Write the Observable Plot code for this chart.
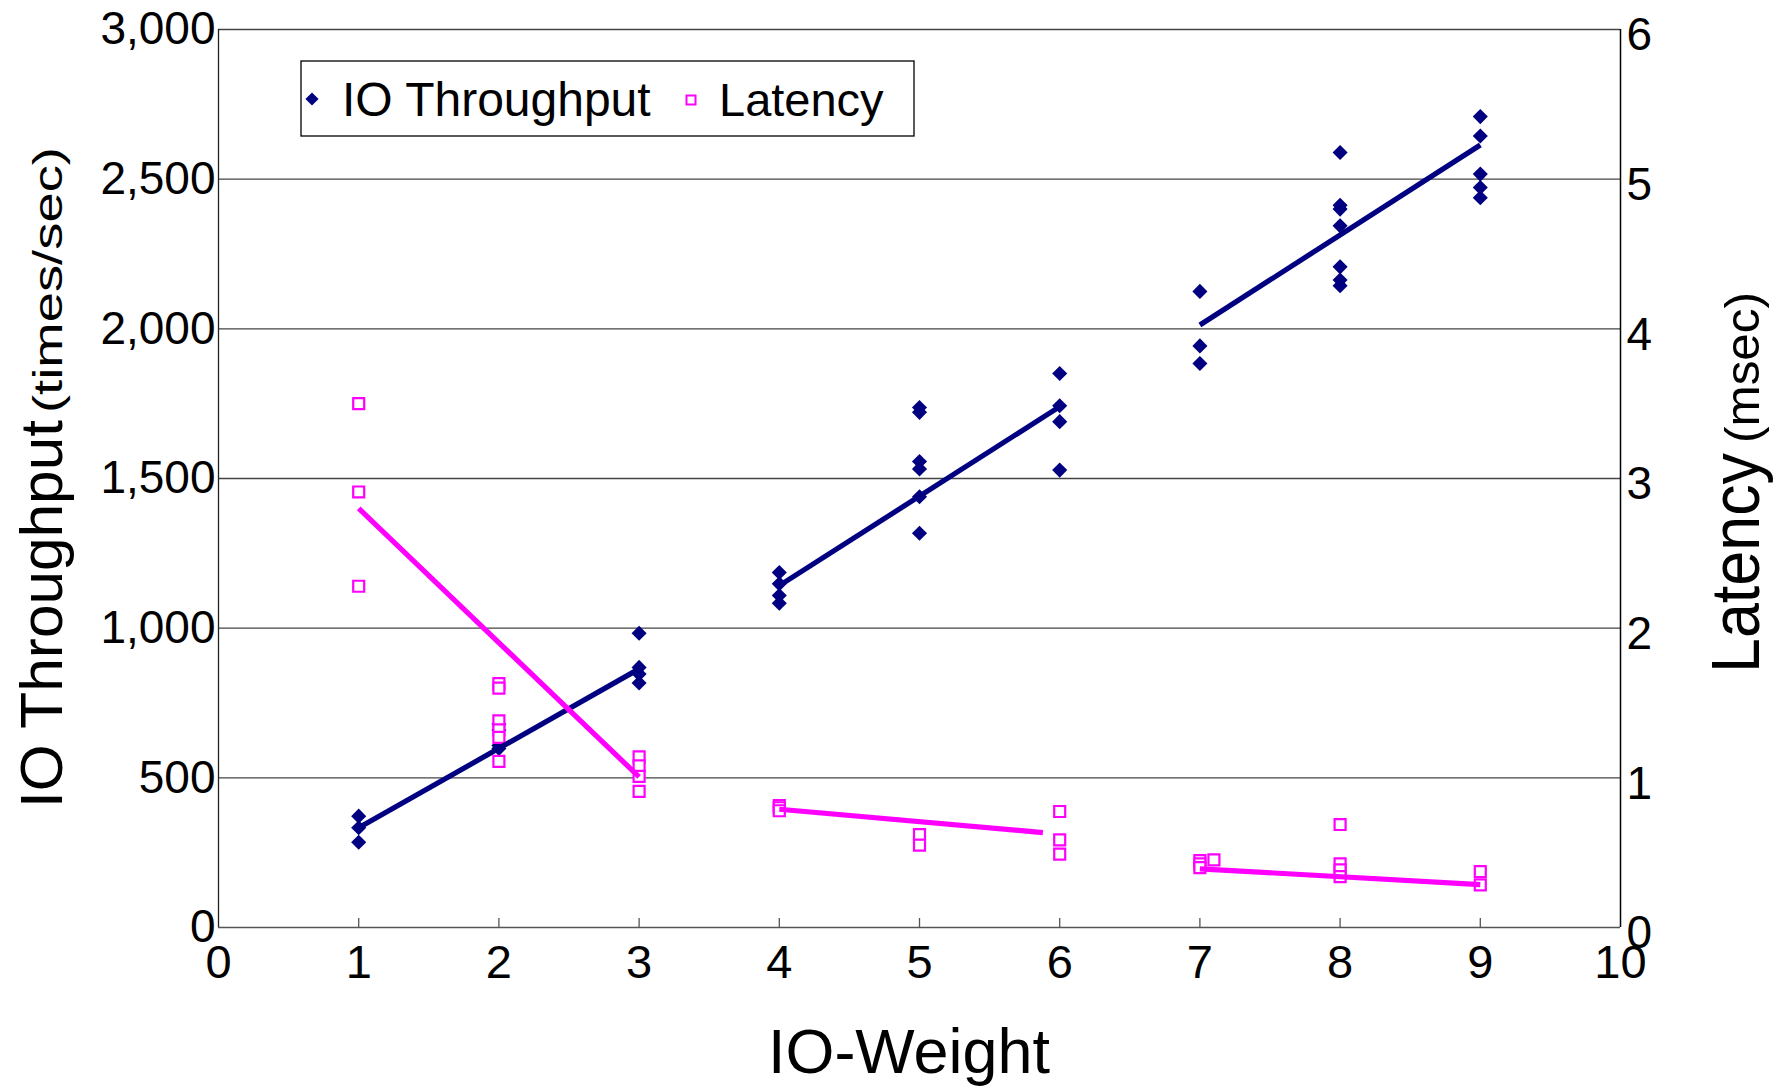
<!DOCTYPE html>
<html><head><meta charset="utf-8">
<script src="https://cdn.jsdelivr.net/npm/d3@7"></script>
<script src="https://cdn.jsdelivr.net/npm/@observablehq/plot@0.6"></script>
<style>html,body{margin:0;padding:0;background:#fff;} svg{display:block}</style>
</head><body><div id="chart"></div>
<script>
// ---- data ----
const tpWeight = [1,1,1, 2,2,2,2, 3,3,3,3, 4,4,4,4, 5,5,5,5,5,5, 6,6,6,6, 7,7,7, 8,8,8,8,8,8,8, 9,9,9,9,9];
const tpValue  = [372,333,285, 598,608,660,680, 983,869,847,817, 1186,1148,1109,1083, 1737,1721,1557,1532,1439,1317, 1851,1743,1690,1528, 2125,1943,1884, 2589,2413,2400,2344,2207,2163,2144, 2709,2644,2517,2472,2438];
const latWeight = [1,1,1, 2,2,2,2,2,2, 3,3,3,3, 4,4,4, 5,5, 6,6,6, 7,7,7,7.1, 8,8,8,8, 9,9];
const latValue  = [3.50,2.91,2.28, 1.63,1.60,1.38,1.32,1.27,1.11, 1.14,1.08,1.01,0.91, 0.815,0.80,0.78, 0.62,0.55, 0.775,0.586,0.49, 0.447,0.425,0.40,0.452, 0.688,0.425,0.385,0.34, 0.374,0.285];
const tpTrendGroup  = ["a","a","b","b","c","c"];
const tpTrendWeight = [1,3,4,6,7,9];
const tpTrendValue  = [333,864,1142,1740,2013,2614];
const latTrendGroup  = ["a","a","b","b","c","c"];
const latTrendWeight = [1,3,4,5.88,7,9];
const latTrendValue  = [2.80,1.006,0.79,0.634,0.392,0.287];
const xTicks = [0,1,2,3,4,5,6,7,8,9,10];
const leftTicks = [0,500,1000,1500,2000,2500,3000];
const rightTicks = [0,1,2,3,4,5,6];
const gridValues = [500,1000,1500,2000,2500,3000];
const seriesNames = ["IO Throughput","Latency"];
const xTitle = "IO-Weight";
const yLeftTitle = ["IO Throughput","(times/sec)"];
const yRightTitle = ["Latency","(msec)"];

const latToTp = 3000 / 6; // right axis (0-6) mapped onto left axis (0-3000)

const tp = tpWeight.map((w,i) => ({w, v: tpValue[i]}));
const lat = latWeight.map((w,i) => ({w, v: latValue[i] * latToTp}));
const tpTrend = tpTrendWeight.map((w,i) => ({g: tpTrendGroup[i], w, v: tpTrendValue[i]}));
const latTrend = latTrendWeight.map((w,i) => ({g: latTrendGroup[i], w, v: latTrendValue[i] * latToTp}));

const NAVY = "#000080", MAGENTA = "#FF00FF";
const FONT = "'Liberation Sans', Arial, sans-serif";

const W = 1773, H = 1086, mL = 218, mR = 153, mT = 29, mB = 159;

const chart = Plot.plot({
  width: W, height: H,
  marginLeft: mL, marginRight: mR, marginTop: mT, marginBottom: mB,
  style: {fontFamily: FONT, background: "white", color: "black", overflow: "visible"},
  x: {domain: [0, 10]},
  y: {domain: [0, 3000]},
  marks: [
    Plot.ruleY(gridValues, {stroke: "#444", strokeWidth: 1.3}),
    Plot.ruleY([0], {stroke: "#555", strokeWidth: 1.5}),
    Plot.tickX(xTicks.slice(1, -1), {stroke: "#555", strokeWidth: 1.3, insetTop: H - mT - mB - 9}),
    Plot.ruleX([0], {stroke: "#222", strokeWidth: 1.3}),
    Plot.ruleX([10], {stroke: "#000", strokeWidth: 1.5}),
    Plot.axisX({ticks: xTicks, tickSize: 0, tickPadding: 17, fontSize: 47, label: null, tickFormat: d => String(d)}),
    Plot.axisY({anchor: "left", ticks: leftTicks, tickSize: 0, tickPadding: 3, fontSize: 46, label: null, tickFormat: d3.format(",")}),
    Plot.axisY({anchor: "right", ticks: rightTicks.map(d => d * latToTp), tickSize: 0, tickPadding: 6, fontSize: 46, label: null, dy: 6, tickFormat: d => String(d / latToTp)}),
    Plot.dot(tp, {x: "w", y: "v", symbol: "diamond2", r: 6.8, fill: NAVY, stroke: "none"}),
    Plot.dot(lat, {x: "w", y: "v", symbol: "square", r: 6.2, fill: "white", stroke: MAGENTA, strokeWidth: 2.2}),
    Plot.line(tpTrend, {x: "w", y: "v", z: "g", stroke: NAVY, strokeWidth: 5.2, strokeLinecap: "butt"}),
    Plot.line(latTrend, {x: "w", y: "v", z: "g", stroke: MAGENTA, strokeWidth: 5.2, strokeLinecap: "butt"})
  ]
});

const svg = d3.select(chart);

// axis titles
function rotText(x, y, size, len, txt) {
  svg.append("text").attr("transform", `translate(${x},${y}) rotate(-90)`)
    .attr("text-anchor", "start")
    .attr("font-family", FONT).attr("font-size", size).attr("fill", "black")
    .attr("textLength", len).attr("lengthAdjust", "spacingAndGlyphs").text(txt);
}
rotText(62, 808, 60, 388, yLeftTitle[0]);
rotText(62, 413, 40, 266, yLeftTitle[1]);
rotText(1759, 673, 68, 220, yRightTitle[0]);
rotText(1759, 443, 48, 151, yRightTitle[1]);

svg.append("text").attr("x", 909).attr("y", 1073).attr("text-anchor", "middle")
  .attr("font-family", FONT).attr("font-size", 63).attr("fill", "black")
  .attr("textLength", 282).attr("lengthAdjust", "spacingAndGlyphs").text(xTitle);

// legend
const lg = svg.append("g").attr("text-anchor", "start");
lg.append("rect").attr("x", 301).attr("y", 61).attr("width", 613).attr("height", 75)
  .attr("fill", "white").attr("stroke", "black").attr("stroke-width", 1.3);
lg.append("path").attr("transform", "translate(312,99)")
  .attr("d", d3.symbol(d3.symbolDiamond2, 110)()).attr("fill", NAVY);
lg.append("text").attr("x", 342).attr("y", 116).attr("font-family", FONT).attr("font-size", 48)
  .attr("fill", "black").text(seriesNames[0]);
lg.append("path").attr("transform", "translate(691,100)")
  .attr("d", d3.symbol(d3.symbolSquare, 81)()).attr("fill", "white").attr("stroke", MAGENTA).attr("stroke-width", 2);
lg.append("text").attr("x", 719).attr("y", 116).attr("font-family", FONT).attr("font-size", 47)
  .attr("fill", "black").text(seriesNames[1]);

document.getElementById("chart").appendChild(chart);
</script>
</body></html>
